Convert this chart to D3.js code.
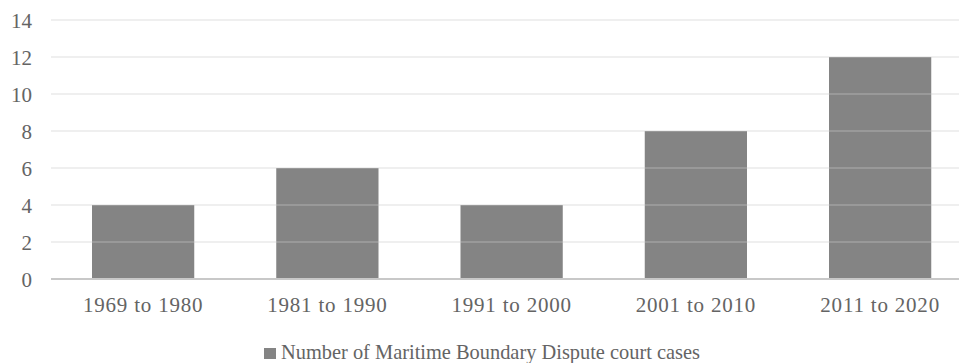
<!DOCTYPE html>
<html>
<head>
<meta charset="utf-8">
<script src="https://cdn.jsdelivr.net/npm/d3@7"></script>
<style>
  html, body { margin: 0; padding: 0; background: #fff; }
  svg { display: block; }
  text { font-family: "Liberation Serif", "Times New Roman", serif; fill: #646464; }
</style>
</head>
<body>
<svg id="chart" width="959" height="363"></svg>
<script>
// Court cases per decade
const categories = ["1969 to 1980", "1981 to 1990", "1991 to 2000", "2001 to 2010", "2011 to 2020"];
const caseCounts = [4, 6, 4, 8, 12];
const yTicks = [0, 2, 4, 6, 8, 10, 12, 14];
const seriesName = "Number of Maritime Boundary Dispute court cases";

const svg = d3.select("#chart");
const W = 959, H = 363;
const plotLeft = 51, plotRight = 972.25, plotTop = 20, plotBottom = 279;
const textColor = "#646464";

const x = d3.scaleBand()
  .domain(categories)
  .range([plotLeft, plotRight])
  .paddingInner(0.445)
  .paddingOuter(0.2225);

const y = d3.scaleLinear().domain([0, 14]).range([plotBottom, plotTop]);

svg.append("defs").append("clipPath").attr("id", "clip")
  .append("rect").attr("x", 0).attr("y", 0).attr("width", W).attr("height", H);

const g = svg.append("g").attr("clip-path", "url(#clip)");

// bars
g.selectAll("rect.bar")
  .data(caseCounts)
  .join("rect")
  .attr("class", "bar")
  .attr("x", (d, i) => x(categories[i]))
  .attr("width", x.bandwidth())
  .attr("y", d => y(d))
  .attr("height", d => y(0) - y(d))
  .attr("fill", "#848484");

// horizontal gridlines, drawn translucent over the bars
g.selectAll("line.grid")
  .data(yTicks.filter(t => t > 0))
  .join("line")
  .attr("class", "grid")
  .attr("x1", plotLeft).attr("x2", plotRight)
  .attr("y1", d => y(d)).attr("y2", d => y(d))
  .attr("stroke", "#c9c9c9")
  .attr("stroke-opacity", 0.3)
  .attr("stroke-width", 2);

// baseline
g.append("line")
  .attr("x1", plotLeft).attr("x2", plotRight)
  .attr("y1", y(0)).attr("y2", y(0))
  .attr("stroke", "#c8c8c8")
  .attr("stroke-width", 2);

// y axis labels
const yAxis = d3.axisLeft(y).tickValues(yTicks).tickSize(0).tickPadding(0);
const ya = svg.append("g").attr("transform", `translate(${plotLeft - 19},0)`)
  .call(yAxis)
  .attr("font-family", null);
ya.select(".domain").remove();
ya.selectAll("text")
  .attr("font-size", 21)
  .attr("fill", textColor)
  .attr("dy", "0.35em");

// x axis labels
const xAxis = d3.axisBottom(x).tickSize(0).tickPadding(0);
const xa = svg.append("g").attr("transform", `translate(0,${y(0)})`)
  .call(xAxis)
  .attr("font-family", null);
xa.select(".domain").remove();
xa.selectAll("text")
  .attr("font-size", 21)
  .attr("fill", textColor)
  .attr("letter-spacing", "0.8px")
  .attr("dy", 0)
  .attr("y", 33);

// legend
const legend = svg.append("g").attr("transform", "translate(264,348)");
legend.append("rect")
  .attr("width", 12).attr("height", 11)
  .attr("fill", "#848484");
legend.append("text")
  .attr("x", 17).attr("y", 11)
  .attr("font-size", 20.4)
  .attr("fill", textColor)
  .text(seriesName);
</script>
</body>
</html>
